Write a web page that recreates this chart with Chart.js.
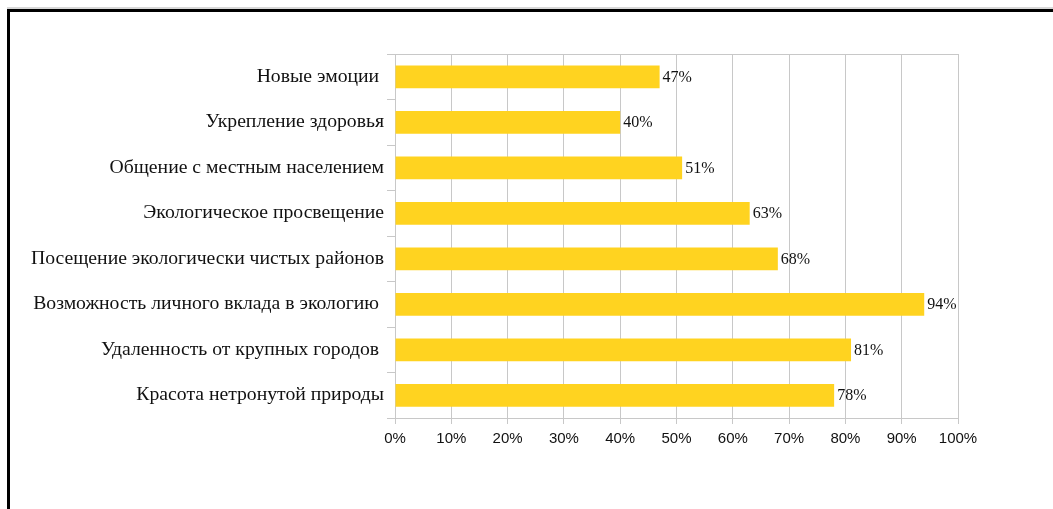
<!DOCTYPE html>
<html lang="ru">
<head>
    <meta charset="UTF-8">
    <title>Мотивы экологического туризма</title>
    <script src="https://cdn.jsdelivr.net/npm/chart.js@4.4.1/dist/chart.umd.min.js"></script>
    <style>
        html, body {
            margin: 0;
            padding: 0;
            background: #fff;
            overflow: hidden;
        }
        .frame {
            position: absolute;
            left: 7px;
            top: 9px;
            width: 1100px;
            height: 600px;
            border-top: 3px solid #000;
            border-left: 3px solid #000;
            box-shadow: 0 -2px 0 #d8d8d8;
        }
        .chart-box {
            position: absolute;
            left: 0;
            top: 0;
            width: 1053px;
            height: 509px;
        }
    </style>
</head>
<body>
    <div class="frame"></div>
    <div class="chart-box">
        <canvas id="motivesChart"></canvas>
    </div>

    <script>
        const categories = [
            'Новые эмоции ',
            'Укрепление здоровья',
            'Общение с местным населением',
            'Экологическое просвещение',
            'Посещение экологически чистых районов',
            'Возможность личного вклада в экологию ',
            'Удаленность от крупных городов ',
            'Красота нетронутой природы'
        ];
        const shares = [47, 40, 51, 63, 68, 94, 81, 78];
        const xTicks = [0, 10, 20, 30, 40, 50, 60, 70, 80, 90, 100];

        const gridColor = '#c8c8c8';

        // value labels right of each bar
        const valueLabels = {
            id: 'valueLabels',
            afterDatasetsDraw(chart) {
                const ctx = chart.ctx;
                const meta = chart.getDatasetMeta(0);
                ctx.save();
                ctx.font = '16px "Liberation Serif", "Times New Roman", serif';
                ctx.fillStyle = '#111';
                ctx.textAlign = 'left';
                ctx.textBaseline = 'middle';
                meta.data.forEach((bar, i) => {
                    ctx.fillText(shares[i] + '%', bar.x + 3, bar.y + 1);
                });
                ctx.restore();
            }
        };

        new Chart(document.getElementById('motivesChart'), {
            type: 'bar',
            data: {
                labels: categories,
                datasets: [{
                    data: shares,
                    backgroundColor: '#ffd320',
                    borderWidth: 0,
                    categoryPercentage: 1,
                    barPercentage: 0.5
                }]
            },
            options: {
                indexAxis: 'y',
                responsive: true,
                maintainAspectRatio: false,
                animation: false,
                layout: {
                    padding: { left: 0, top: 54, right: 95, bottom: 0 }
                },
                plugins: {
                    legend: { display: false },
                    tooltip: { enabled: false }
                },
                scales: {
                    x: {
                        min: 0,
                        max: 100,
                        afterBuildTicks: s => { s.ticks = xTicks.map(v => ({ value: v })); },
                        afterFit: s => { s.height = 91; },
                        grid: { color: gridColor, tickLength: 6 },
                        border: { color: gridColor },
                        ticks: {
                            padding: 6,
                            color: '#111',
                            font: { family: '"Liberation Sans", Arial, sans-serif', size: 15 },
                            callback: v => v + '%'
                        }
                    },
                    xTop: {
                        position: 'top',
                        min: 0,
                        max: 100,
                        afterFit: s => { s.height = 0; },
                        grid: { display: false },
                        border: { color: gridColor },
                        ticks: { display: false }
                    },
                    y: {
                        afterFit: s => { s.width = 395; },
                        grid: { offset: true, drawOnChartArea: false, color: gridColor, tickLength: 8 },
                        border: { color: gridColor },
                        ticks: {
                            padding: 3,
                            color: '#111',
                            font: { family: '"Liberation Serif", "Times New Roman", serif', size: 19.7 }
                        }
                    }
                }
            },
            plugins: [valueLabels]
        });
    </script>
</body>
</html>
